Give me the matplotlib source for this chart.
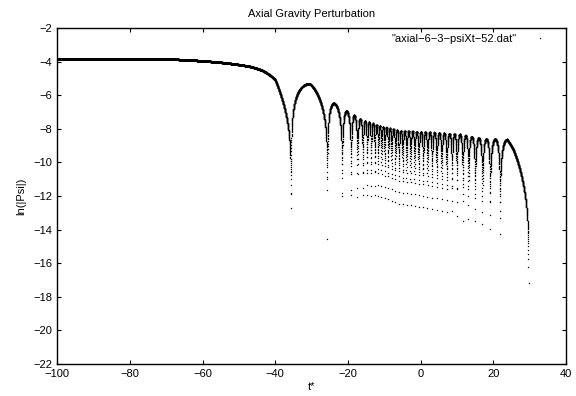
import numpy as np
import matplotlib
matplotlib.use("Agg")
import matplotlib.pyplot as plt

plt.rcParams['font.family'] = ['Liberation Sans', 'DejaVu Sans']

# times (t*) where |Psi| goes to zero
dip_t = [-35.65, -25.67, -21.6, -19.15, -17.4, -15.9, -14.75, -13.65, -12.6,
         -11.7, -10.8, -9.9, -8.95, -8.0, -7.0, -6.0, -4.95, -3.9, -2.8, -1.7,
         -0.55, 0.65, 1.85, 3.1, 4.4, 5.75, 7.15, 8.6, 9.92, 11.57, 13.1,
         14.95, 16.95, 19.07, 21.8, 29.65]
# slow roll-off before the first zero: (t*, phase)
lead_t = [-72.0, -65.0, -60.7, -54.0, -47.0, -43.5, -40.5]
lead_p = [0.5, 0.58, 0.635, 0.70, 0.775, 0.83, 0.895]
last_peak = 23.7

# upper envelope of ln|Psi| (lobe tops)
env_t = [-100, -40, -35.65, -30.4, -23.8, -20.6, -18.7, -17.0, -15.2, -13.5,
         -11.8, -10.3, -5.7, 3.4, 10.8, 17.2, 23.7, 25.5, 27.3, 28.7, 30.0]
env_v = [-3.85, -3.85, -5.25, -5.33, -6.48, -6.92, -7.14, -7.38, -7.54, -7.64,
         -7.78, -7.87, -8.11, -8.21, -8.33, -8.6, -8.63, -9.14, -9.9, -10.6,
         -11.2]

t_start, t_end, dt = -100.0, 29.9, 0.0125

# phase knots: half-integers at lobe tops, integers at zeros
n = len(dip_t)
knot_t = lead_t + dip_t[:-1] + [last_peak, dip_t[-1]]
knot_p = lead_p + list(range(1, n)) + [n - 0.5, n]

t = np.arange(t_start, t_end, dt) + 0.0043
phase = np.interp(t, knot_t, knot_p)
env = np.interp(t, env_t, env_v)
s = np.abs(np.sin(np.pi * phase))
keep = s > 0
lnpsi = env[keep] + np.log(s[keep])
t = t[keep]

fig = plt.figure(figsize=(5.76, 3.96), dpi=100)
ax = fig.add_axes([0.099, 0.081, 0.884, 0.848])
ax.plot(t, lnpsi, ls='none', marker='s', ms=0.9, mew=0, color='k',
        label='"axial\u22126\u22123\u2212psiXt\u221252.dat"')

ax.set_xlim(-100, 40)
ax.set_ylim(-22, -2)
ax.set_xticks(np.arange(-100, 41, 20))
ax.set_yticks(np.arange(-22, -1, 2))
ax.tick_params(direction='in', length=3.2, width=0.8, top=True, right=True,
               labelsize=8)
for sp in ax.spines.values():
    sp.set_linewidth(1.0)
ax.set_title('Axial Gravity Perturbation', fontsize=8, pad=8)
ax.set_xlabel('t*', fontsize=8, labelpad=2)
ax.set_ylabel('ln(|Psi|)', fontsize=8, labelpad=5)
leg = ax.legend(loc='upper right', bbox_to_anchor=(0.969, 0.996),
                borderaxespad=0, frameon=False, markerfirst=False,
                fontsize=8, handletextpad=1.6, handlelength=1.0)

fig.savefig('out.png', dpi=100)
